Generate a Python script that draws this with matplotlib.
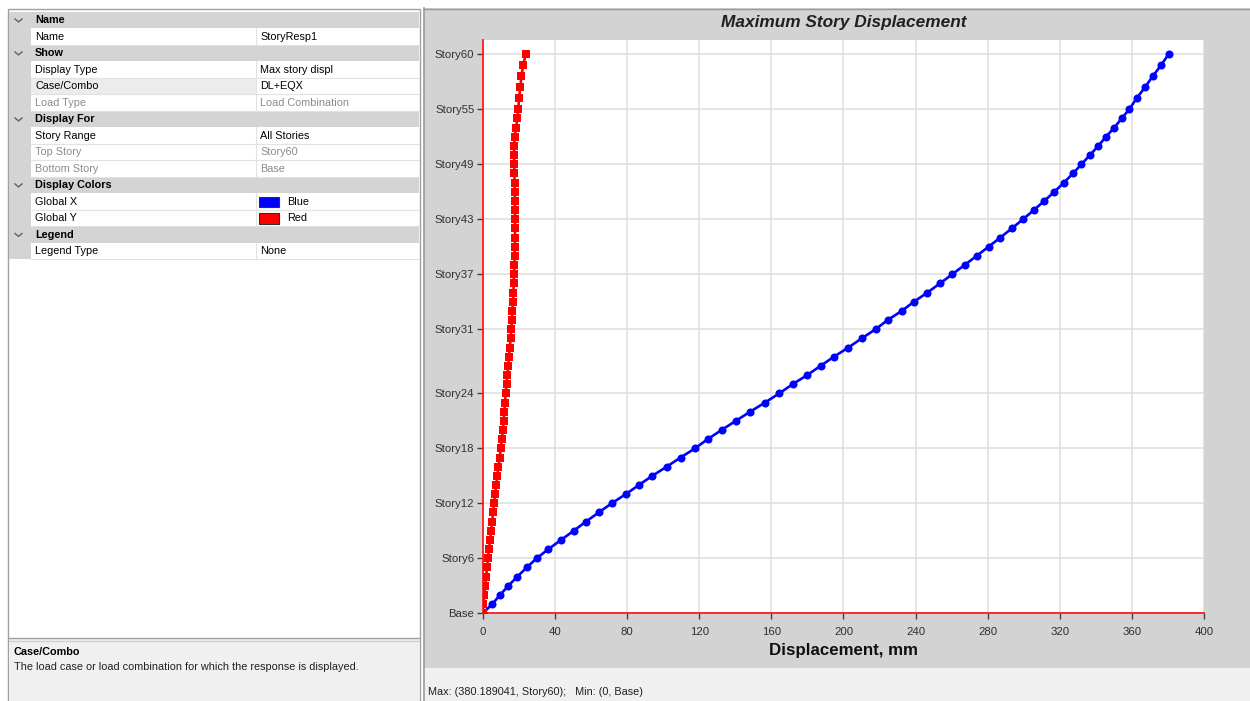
import numpy as np
import matplotlib
matplotlib.use('Agg')
import matplotlib.pyplot as plt
from matplotlib.patches import Rectangle

plt.rcParams['font.family'] = ['Liberation Sans', 'DejaVu Sans']

# --- donnees du graphique ---
story_names = ['Base'] + ['Story%d' % i for i in range(1, 61)]
story_heights = [3.0, 3.0, 3.0, 3.0, 3.0, 3.0, 3.0, 3.0, 3.0, 3.0,
                 3.0, 3.0, 3.0, 3.0, 3.0, 3.0, 3.0, 3.0, 3.0, 3.0,
                 3.0, 3.0, 3.0, 3.0, 3.0, 3.0, 3.0, 3.0, 3.0, 3.0,
                 3.0, 3.0, 3.0, 3.0, 3.0, 3.0, 3.0, 3.0, 3.0, 3.0,
                 3.0, 3.0, 3.0, 3.0, 3.0, 3.0, 3.0, 3.0, 3.0, 3.0,
                 3.0, 3.0, 3.0, 3.0, 3.0, 3.6, 3.6, 3.6, 3.6, 3.6]
# Global X (bleu), Base -> Story60
disp_x = [0.0, 5.3, 9.6, 14.2, 19.2, 24.4, 29.9, 36.4, 43.4, 50.4,
          57.2, 64.3, 71.5, 79.3, 86.6, 94.0, 102.0, 109.7, 117.7, 124.7,
          132.4, 140.3, 148.3, 156.5, 164.4, 171.8, 179.9, 187.3, 194.7, 202.7,
          210.1, 217.8, 224.5, 232.3, 239.1, 246.5, 253.5, 260.3, 267.1, 273.8,
          280.4, 286.9, 293.3, 299.5, 305.5, 311.3, 316.9, 322.2, 327.2, 331.9,
          336.6, 341.2, 345.5, 350.1, 354.2, 358.4, 362.5, 367.1, 371.4, 376.0,
          380.189041]
# Global Y (rouge), Base -> Story60
disp_y = [0.0, 0.4, 0.9, 1.4, 1.9, 2.4, 2.9, 3.5, 4.1, 4.7,
          5.2, 5.8, 6.3, 6.9, 7.5, 8.1, 8.7, 9.4, 10.0, 10.6,
          11.2, 11.6, 12.0, 12.4, 12.7, 13.2, 13.7, 14.2, 14.6, 15.0,
          15.5, 15.9, 16.2, 16.5, 16.8, 17.0, 17.2, 17.4, 17.6, 17.7,
          17.8, 17.9, 17.9, 17.9, 17.9, 17.8, 17.8, 17.7, 17.6, 17.5,
          17.4, 17.4, 17.7, 18.5, 19.2, 19.8, 20.1, 20.9, 21.4, 22.5,
          23.8]
tick_stories = ['Base', 'Story6', 'Story12', 'Story18', 'Story24', 'Story31',
                'Story37', 'Story43', 'Story49', 'Story55', 'Story60']
x_ticks = [0, 40, 80, 120, 160, 200, 240, 280, 320, 360, 400]

# grille de proprietes (panneau de gauche)
grid_rows = [
    ('h', 'Name', ''),
    ('r', 'Name', 'StoryResp1'),
    ('h', 'Show', ''),
    ('r', 'Display Type', 'Max story displ'),
    ('s', 'Case/Combo', 'DL+EQX'),
    ('g', 'Load Type', 'Load Combination'),
    ('h', 'Display For', ''),
    ('r', 'Story Range', 'All Stories'),
    ('g', 'Top Story', 'Story60'),
    ('g', 'Bottom Story', 'Base'),
    ('h', 'Display Colors', ''),
    ('c', 'Global X', 'Blue'),
    ('c', 'Global Y', 'Red'),
    ('h', 'Legend', ''),
    ('r', 'Legend Type', 'None'),
]
swatch = {'Blue': '#0000ff', 'Red': '#ff0000'}

W, H = 1250, 701
fig = plt.figure(figsize=(W / 100, H / 100), dpi=100)
fig.patch.set_facecolor('white')

# axe "interface" en coordonnees pixels
ui = fig.add_axes([0, 0, 1, 1], zorder=0)
ui.set_xlim(0, W)
ui.set_ylim(H, 0)
ui.axis('off')

def rect(x0, y0, x1, y1, fc, ec='none', lw=0.0):
    ui.add_patch(Rectangle((x0, y0), x1 - x0, y1 - y0, facecolor=fc,
                           edgecolor=ec, linewidth=lw))

fs_ui = 7.8

# panneau gauche
rect(8, 9, 420, 701, 'white', '#a0a0a0', 1.0)
row_h = 16.5
top = 11.5
for i, (kind, label, value) in enumerate(grid_rows):
    y0 = top + i * row_h
    yc = y0 + row_h / 2 + 0.7
    if kind == 'h':
        rect(9, y0, 419, y0 + row_h, '#d4d4d4')
        ui.plot([15, 18.5, 22], [yc - 1.5, yc + 1.5, yc - 1.5], color='#606060', lw=1)
        ui.text(35, yc, label, fontsize=fs_ui, fontweight='bold', va='center', ha='left', color='black')
    else:
        rect(9, y0, 31, y0 + row_h, '#d4d4d4')
        if kind == 's':
            rect(31, y0, 256, y0 + row_h, '#ececec')
        ui.plot([31, 419], [y0 + row_h, y0 + row_h], color='#e2e2e2', lw=0.8)
        ui.plot([256, 256], [y0, y0 + row_h], color='#e2e2e2', lw=0.8)
        col = '#8c8c8c' if kind == 'g' else 'black'
        ui.text(35, yc, label, fontsize=fs_ui, va='center', ha='left', color=col)
        if kind == 'c':
            rect(259, y0 + 3.5, 279, y0 + row_h - 2.5, swatch[value], '#303030', 0.8)
            ui.text(287, yc, value, fontsize=fs_ui, va='center', ha='left', color='black')
        else:
            ui.text(260, yc, value, fontsize=fs_ui, va='center', ha='left', color=col)

# zone de description
rect(9, 639, 419, 701, '#f0f0f0')
ui.plot([9, 419], [638, 638], color='#a0a0a0', lw=1)
ui.plot([9, 419], [641, 641], color='#d0d0d0', lw=1)
ui.text(14, 652, 'Case/Combo', fontsize=fs_ui, fontweight='bold', va='center', ha='left')
ui.text(14, 667, 'The load case or load combination for which the response is displayed.',
        fontsize=fs_ui, va='center', ha='left', color='#202020')

# panneau droit
rect(424, 8, W, 668, '#d3d3d3')
ui.plot([424, 424], [8, 701], color='#9a9a9a', lw=1.2)
ui.plot([424, W], [8.5, 8.5], color='#9a9a9a', lw=1.0)
rect(425, 668, W, 701, '#f0f0f0')
ui.text(428, 692, 'Max: (380.189041, Story60);   Min: (0, Base)', fontsize=fs_ui,
        va='center', ha='left', color='#202020')

# --- graphique ---
elev = np.concatenate([[0.0], np.cumsum(story_heights)])
tick_pos = [elev[story_names.index(s)] for s in tick_stories]

px_left, px_right, px_top, px_base = 482.7, 1204.3, 40.0, 613.3
px_story60 = 54.3
ax = fig.add_axes([px_left / W, (H - px_base) / H, (px_right - px_left) / W,
                   (px_base - px_top) / H], zorder=2)
ax.set_facecolor('white')

ax.plot(disp_x, elev, color='#0000ff', lw=1.9, marker='o', markersize=5.8,
        markeredgewidth=0, zorder=3)
ax.plot(disp_y, elev, color='#ff0000', lw=1.9, marker='s', markersize=5.2,
        markeredgewidth=0, zorder=4)

ax.set_xlim(0, 400)
ymax = elev[-1] * (px_base - px_top) / (px_base - px_story60)
ax.set_ylim(0, ymax)
ax.set_xticks(x_ticks)
ax.set_yticks(tick_pos)
ax.set_yticklabels(tick_stories)
ax.grid(True, color='#dedede', lw=1.1)
ax.set_axisbelow(True)

for side in ['top', 'right']:
    ax.spines[side].set_visible(False)
for side in ['left', 'bottom']:
    ax.spines[side].set_color('#ff1a1a')
    ax.spines[side].set_linewidth(1.3)
    ax.spines[side].set_zorder(2.5)

ax.tick_params(axis='both', direction='out', length=4, width=1, color='#404040',
               labelsize=8.2, labelcolor='#303030')
ax.tick_params(axis='y', pad=2)
ax.tick_params(axis='x', pad=6)

ax.text(0.5, (px_base - 23) / (px_base - px_top), 'Maximum Story Displacement',
        transform=ax.transAxes, ha='center', va='center', fontsize=12.4,
        fontweight='bold', fontstyle='italic', color='#202020')
ax.set_xlabel('Displacement, mm', fontsize=12.2, fontweight='bold', color='#101010')
ax.xaxis.set_label_coords(0.5, (px_base - 651) / (px_base - px_top))
ax.xaxis.label.set_va('center')

fig.savefig('out.png', dpi=100)
